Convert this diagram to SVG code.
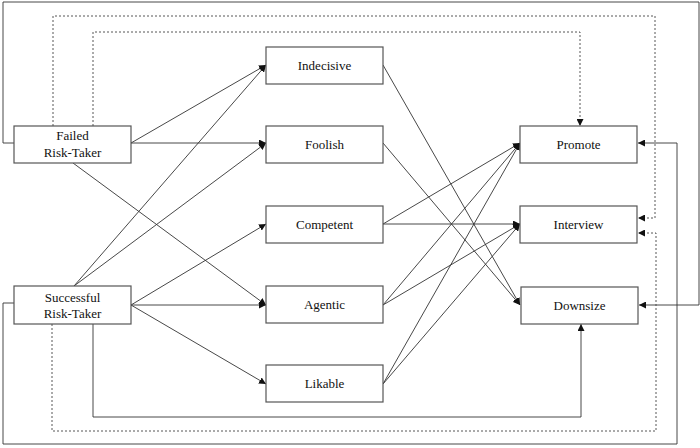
<svg xmlns="http://www.w3.org/2000/svg" width="700" height="448" viewBox="0 0 700 448">
<style>
.box{fill:#fff;stroke:#555;stroke-width:1.2}
text{font-family:'Liberation Serif','Times New Roman','DejaVu Serif',serif;font-size:13px;fill:#111;text-anchor:middle}
.c{fill:none;stroke:#333;stroke-width:0.9;marker-end:url(#ah)}
.d{fill:none;stroke:#444;stroke-width:0.9;stroke-dasharray:2 2;marker-end:url(#ah)}
</style>
<defs>
<marker id="ah" markerWidth="8" markerHeight="7" refX="7" refY="3.5" orient="auto" markerUnits="userSpaceOnUse">
<path d="M0,0 L7,3.5 L0,7 Z" fill="#111"/>
</marker>
</defs>
<rect width="700" height="448" fill="#fff"/>
<g id="connectors">
<path class="c" d="M14,143 H3 V2 H699 V305 H639"/>
<path class="c" d="M14,303 H3 V444 H677 V143 H638"/>
<path class="d" d="M93,126 V32 H580 V126"/>
<path class="d" d="M53,126 V16 H655 V218 H638"/>
<path class="d" d="M52,324 V431 H656 V233 H638"/>
<path class="c" d="M93,324 V417 H581 V324"/>
<path class="c" d="M131,143 L266,65"/>
<path class="c" d="M131,143 L266,143"/>
<path class="c" d="M73,163 L266,305"/>
<path class="c" d="M74,286 L266,65"/>
<path class="c" d="M74,286 L266,143"/>
<path class="c" d="M131,305 L266,224"/>
<path class="c" d="M131,305 L266,305"/>
<path class="c" d="M131,305 L266,384"/>
<path class="c" d="M383,65 L520,305"/>
<path class="c" d="M383,143 L520,305"/>
<path class="c" d="M383,224 L520,143"/>
<path class="c" d="M383,224 L520,224"/>
<path class="c" d="M383,305 L520,143"/>
<path class="c" d="M383,305 L520,224"/>
<path class="c" d="M383,384 L520,143"/>
<path class="c" d="M383,384 L520,224"/>
</g>
<g id="failed"><rect class="box" x="14" y="126" width="117" height="37"/><text x="72.5" y="140">Failed</text><text x="72.5" y="157">Risk-Taker</text></g>
<g id="successful"><rect class="box" x="14" y="286" width="117" height="38"/><text x="72.5" y="302">Successful</text><text x="72.5" y="318">Risk-Taker</text></g>
<g id="indecisive"><rect class="box" x="266" y="47" width="117" height="37"/><text x="324.5" y="70">Indecisive</text></g>
<g id="foolish"><rect class="box" x="266" y="126" width="117" height="37"/><text x="324.5" y="149">Foolish</text></g>
<g id="competent"><rect class="box" x="266" y="206" width="117" height="37"/><text x="324.5" y="229">Competent</text></g>
<g id="agentic"><rect class="box" x="266" y="286" width="117" height="37"/><text x="324.5" y="309">Agentic</text></g>
<g id="likable"><rect class="box" x="266" y="365" width="117" height="37"/><text x="324.5" y="388">Likable</text></g>
<g id="promote"><rect class="box" x="520" y="126" width="117" height="37"/><text x="578.5" y="149">Promote</text></g>
<g id="interview"><rect class="box" x="520" y="206" width="117" height="37"/><text x="578.5" y="229">Interview</text></g>
<g id="downsize"><rect class="box" x="521" y="287" width="117" height="37"/><text x="579.5" y="310">Downsize</text></g>
</svg>
